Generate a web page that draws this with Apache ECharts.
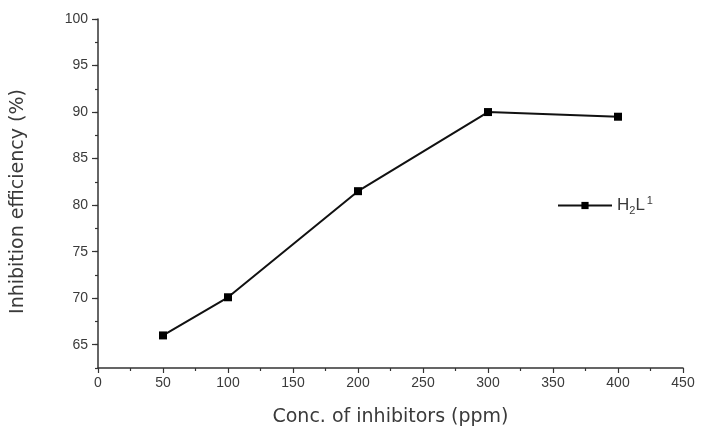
<!DOCTYPE html>
<html>
<head>
<meta charset="utf-8">
<script src="https://cdn.jsdelivr.net/npm/echarts@6/dist/echarts.min.js"></script>
<style>
  html, body { margin: 0; padding: 0; background: #fff; }
  #chart { width: 701px; height: 429px; }
</style>
</head>
<body>
<div id="chart"></div>
<script>
  // inhibitor concentration (ppm) and inhibition efficiency (%)
  const concPpm = [50, 100, 200, 300, 400]
  const efficiency = [66.0, 70.1, 81.5, 90.0, 89.5]
  const yLabelValues = [65, 70, 75, 80, 85, 90, 95, 100]

  const chart = echarts.init(document.getElementById('chart'))
  const font = 'Liberation Sans, Arial, sans-serif'
  const titleFont = 'DejaVu Sans, sans-serif'
  const textColor = '#3a3a3a'

  const option = {
    backgroundColor: '#fff',
    animation: false,
    grid: { left: 98, right: 18, top: 19, bottom: 61, outerBoundsMode: 'none' },
    legend: {
      left: 552,
      top: 190,
      itemWidth: 54,
      itemHeight: 9,
      data: ['H2L1'],
      textStyle: {
        fontFamily: font,
        fontSize: 17,
        color: textColor,
        rich: {
          b: { fontFamily: font, fontSize: 17, color: textColor },
          sub: { fontFamily: font, fontSize: 11, color: textColor, verticalAlign: 'bottom', padding: [10, 0, 0, 0] },
          sup: { fontFamily: font, fontSize: 11, color: textColor, verticalAlign: 'top', padding: [0, 0, 10, 2] }
        }
      },
      formatter: () => '{b|H}{sub|2}{b|L}{sup|1}'
    },
    xAxis: {
      type: 'value',
      min: 0,
      max: 450,
      interval: 50,
      name: 'Conc. of inhibitors (ppm)',
      nameLocation: 'middle',
      nameGap: 40,
      nameTextStyle: { fontFamily: titleFont, fontSize: 19, color: textColor },
      splitLine: { show: false },
      axisLine: { lineStyle: { color: '#333', width: 1.5 } },
      axisTick: { length: 5, lineStyle: { color: '#333', width: 1.2 } },
      minorTick: { show: true, splitNumber: 2, length: 3, lineStyle: { color: '#333', width: 1.2 } },
      axisLabel: { fontFamily: font, fontSize: 14, color: textColor, margin: 8 }
    },
    yAxis: [
      {
        type: 'value',
        min: 62.5,
        max: 100,
        interval: 2.5,
        name: 'Inhibition efficiency (%)',
        nameLocation: 'middle',
        nameGap: 70,
        nameTextStyle: { fontFamily: titleFont, fontSize: 19, color: textColor, padding: [0, 16, 0, 0] },
        splitLine: { show: false },
        axisLine: { show: true, lineStyle: { color: '#333', width: 1.5 } },
        axisTick: { length: 3, lineStyle: { color: '#333', width: 1.2 } },
        axisLabel: {
          fontFamily: font,
          fontSize: 14,
          color: textColor,
          margin: 10,
          customValues: yLabelValues
        }
      },
      {
        // major ticks overlaid on the same scale
        type: 'value',
        position: 'left',
        min: 62.5,
        max: 100,
        interval: 2.5,
        splitLine: { show: false },
        axisLine: { show: false },
        axisTick: { show: true, length: 6, customValues: yLabelValues, lineStyle: { color: '#333', width: 1.2 } },
        axisLabel: { show: false }
      }
    ],
    series: [
      {
        name: 'H2L1',
        type: 'line',
        data: concPpm.map((c, i) => [c, efficiency[i]]),
        symbol: 'rect',
        symbolSize: 8,
        itemStyle: { color: '#000' },
        lineStyle: { color: '#111', width: 2 }
      }
    ]
  }
  chart.setOption(option)
</script>
</body>
</html>
